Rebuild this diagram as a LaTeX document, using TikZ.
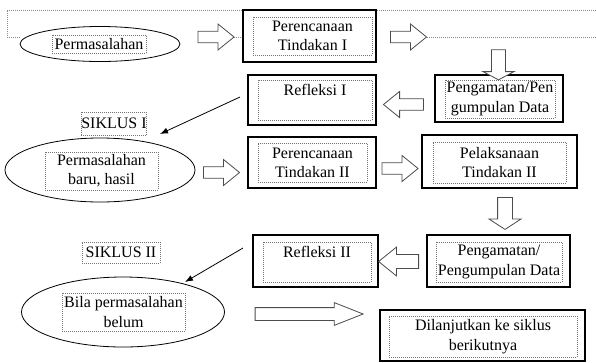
\documentclass[tikz,border=0pt]{standalone}
\usepackage{fontspec}
\setmainfont{Liberation Serif}
\usetikzlibrary{shapes.geometric,shapes.arrows,arrows.meta}

\begin{document}
\begin{tikzpicture}[x=0.75pt, y=-0.75pt, >={Latex[length=6pt,width=4.5pt]}, font=\fontsize{12}{14.5}\selectfont]
  \tikzstyle{box}=[draw, line width=0.8pt, fill=white, inner sep=0pt]
  \tikzstyle{txt}=[draw=black!55, densely dotted, line width=0.5pt, fill=white, inner sep=0pt, align=center]
  \tikzstyle{oval}=[ellipse, draw, line width=0.6pt, fill=white, inner sep=0pt]
  \tikzstyle{blk}=[single arrow, draw=black!70, line width=0.6pt, fill=white, inner sep=0pt]
  \tikzstyle{rarr}=[blk, minimum height=27pt, inner ysep=4pt, single arrow head extend=5.5pt, single arrow tip angle=78]
  \tikzstyle{larr}=[rarr, minimum height=30pt, shape border rotate=180]
  \tikzstyle{frame}=[draw=black!45, densely dotted, line width=0.5pt]

  \useasboundingbox (0,0) rectangle (596,362);

  % dotted frame behind the first row
  \draw[frame] (20,37) -- (7,37) -- (7,10) -- (596,10);
  \draw[frame] (230,37) -- (243,37);
  \draw[frame] (423,37) -- (596,37);

  % siklus I
  \node[oval, minimum width=120pt, minimum height=26.25pt] at (100,44) (E1) {};
  \node[txt, minimum width=70.5pt, minimum height=13.5pt] at (99,44) (E1t) {Permasalahan};

  \node[box, minimum width=99.75pt, minimum height=39pt] at (309.5,36) (P1) {};
  \node[txt, minimum width=89.25pt, minimum height=28.5pt] at (312.5,36) (P1t) {Perencanaan\\Tindakan I};

  \node[box, minimum width=96pt, minimum height=37.5pt] at (312,100) (R1) {};
  \node[txt, minimum width=85.5pt, minimum height=30pt] at (315,100) (R1t) {Refleksi I\\~};

  \node[box, minimum width=96pt, minimum height=35.25pt] at (499,98.5) (G1) {};
  \node[txt, minimum width=82.5pt, minimum height=28.5pt] at (500,99) (G1t) {Pengamatan/Pen\\gumpulan Data};

  \node[txt, minimum width=48pt, minimum height=17.25pt] at (114,123.5) (S1) {SIKLUS I};

  \node[rarr] at (212.5,37) (A1) {};
  \node[rarr] at (405,37) (A2) {};
  \node[blk, minimum height=22.5pt, inner ysep=4.9pt, single arrow head extend=6.4pt,
        single arrow tip angle=124, rotate=-90] at (498.5,63) (D1) {};
  \node[larr] at (407,104.5) (L1) {};

  \coordinate (a1s) at (240,97);
  \coordinate (a1e) at (160,134);
  \draw[->, line width=0.6pt] (a1s) -- (a1e);

  % siklus II
  \node[oval, minimum width=142.5pt, minimum height=48pt] at (100,170) (E2) {};
  \node[txt, minimum width=84.75pt, minimum height=28.5pt] at (101.5,171) (E2t) {Permasalahan\\baru, hasil};

  \node[box, minimum width=96pt, minimum height=38.25pt] at (312,162.5) (P2) {};
  \node[txt, minimum width=81.75pt, minimum height=29.25pt] at (312.5,162.5) (P2t) {Perencanaan\\Tindakan II};

  \node[box, minimum width=116.25pt, minimum height=39.75pt] at (499.5,161.5) (X2) {};
  \node[txt, minimum width=99.75pt, minimum height=30.75pt] at (499.5,162.5) (X2t) {Pelaksanaan\\Tindakan II};

  \node[box, minimum width=107.25pt, minimum height=39pt] at (498.5,261) (G2) {};
  \node[txt, minimum width=94.5pt, minimum height=30pt] at (499,262) (G2t) {Pengamatan/\\Pengumpulan Data};

  \node[box, minimum width=93.75pt, minimum height=39pt] at (315.5,261) (R2) {};
  \node[txt, minimum width=81pt, minimum height=30pt] at (317,262) (R2t) {Refleksi II\\~};

  \node[txt, minimum width=58.5pt, minimum height=15.75pt] at (121,252.5) (S2) {SIKLUS II};

  \node[rarr] at (218,172.5) (A3) {};
  \node[rarr] at (396.5,168.5) (A4) {};
  \node[blk, minimum height=24pt, inner ysep=5.25pt, single arrow head extend=6.4pt,
        single arrow tip angle=114, rotate=-90] at (505,211) (D2) {};
  \node[larr, inner ysep=5pt] at (403,261.5) (L2) {};

  \coordinate (a2s) at (243,248);
  \coordinate (a2e) at (185,282);
  \draw[->, line width=0.6pt] (a2s) -- (a2e);

  % akhir
  \node[oval, minimum width=152.25pt, minimum height=52.5pt] at (123,312) (E3) {};
  \node[txt, minimum width=92.25pt, minimum height=28.5pt] at (123.5,312) (E3t) {Bila permasalahan\\belum};

  \node[box, minimum width=153.75pt, minimum height=38.25pt] at (482.5,335.5) (D) {};
  \node[txt, minimum width=141pt, minimum height=30.75pt] at (483,336.5) (Dt) {Dilanjutkan ke siklus\\berikutnya};

  \node[blk, minimum height=81pt, inner ysep=4.5pt, single arrow head extend=3.75pt,
        single arrow tip angle=43] at (301,314) (B) {};
\end{tikzpicture}
\end{document}
